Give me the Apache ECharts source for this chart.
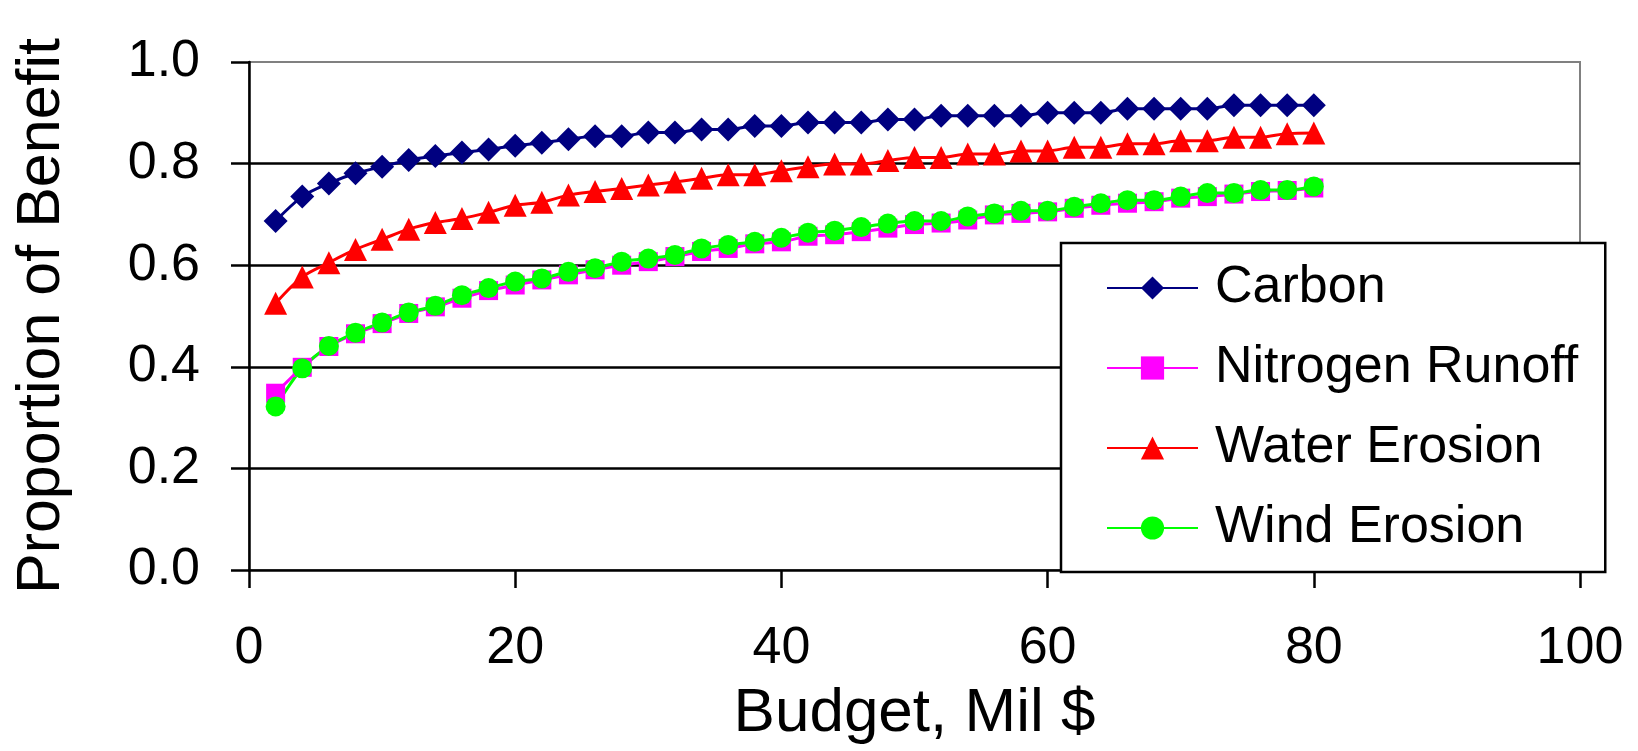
<!DOCTYPE html>
<html>
<head>
<meta charset="utf-8">
<script src="https://cdn.jsdelivr.net/npm/echarts@6/dist/echarts.min.js"></script>
<style>
html,body{margin:0;padding:0;background:#fff;}
#chart{width:1638px;height:751px;}
</style>
</head>
<body>
<div id="chart"></div>
<script>
// Budget (Mil $)
const budget = [2,4,6,8,10,12,14,16,18,20,22,24,26,28,30,32,34,36,38,40,
                42,44,46,48,50,52,54,56,58,60,62,64,66,68,70,72,74,76,78,80];
const carbon = [0.687,0.735,0.761,0.781,0.794,0.807,0.815,0.822,0.828,0.835,
                0.841,0.848,0.854,0.854,0.861,0.861,0.867,0.867,0.874,0.874,
                0.881,0.881,0.881,0.887,0.887,0.894,0.894,0.894,0.894,0.900,
                0.900,0.900,0.908,0.908,0.908,0.908,0.915,0.915,0.915,0.915];
const nitrogenRunoff = [0.348,0.399,0.440,0.465,0.485,0.505,0.518,0.535,0.550,0.561,
                0.571,0.581,0.591,0.600,0.607,0.617,0.627,0.633,0.642,0.646,
                0.657,0.660,0.666,0.673,0.680,0.683,0.689,0.699,0.702,0.705,
                0.712,0.718,0.722,0.725,0.732,0.735,0.740,0.745,0.747,0.752];
const waterErosion = [0.525,0.577,0.605,0.631,0.651,0.671,0.684,0.692,0.704,0.718,
                0.724,0.738,0.745,0.751,0.758,0.764,0.771,0.778,0.778,0.786,
                0.794,0.799,0.799,0.806,0.812,0.812,0.819,0.819,0.825,0.825,
                0.832,0.832,0.839,0.839,0.845,0.845,0.852,0.852,0.859,0.860];
const windErosion = [0.322,0.397,0.441,0.467,0.487,0.507,0.520,0.541,0.555,0.568,
                0.574,0.587,0.594,0.607,0.613,0.620,0.633,0.640,0.646,0.654,
                0.664,0.668,0.675,0.682,0.687,0.687,0.696,0.702,0.707,0.707,
                0.715,0.722,0.728,0.728,0.735,0.742,0.742,0.748,0.748,0.755];
const seriesNames = ['Carbon','Nitrogen Runoff','Water Erosion','Wind Erosion'];
const xTicks = [0,20,40,60,80,100];
const yTicks = [0,0.2,0.4,0.6,0.8,1.0];

const FONT = '"Liberation Sans", Arial, sans-serif';
const pairs = arr => budget.map((b,i)=>[b,arr[i]]);

const chart = echarts.init(document.getElementById('chart'), null, {renderer:'canvas'});
const mk = (name, arr, color, symbol, size) => ({
  name, type:'line', data: pairs(arr), smooth:0.3,
  symbol, symbolSize:size, showSymbol:true,
  lineStyle:{color, width:3},
  itemStyle:{color, borderWidth:0},
  emphasis:{disabled:true}
});
chart.setOption({
  animation:false,
  backgroundColor:'#fff',
  textStyle:{fontFamily:FONT, color:'#000'},
  grid:{left:249, right:58, top:62, bottom:181, show:true, borderColor:'#808080', borderWidth:2, backgroundColor:'transparent'},
  xAxis:{
    type:'value', min:xTicks[0], max:xTicks[xTicks.length-1], interval:20,
    name:'Budget, Mil $', nameLocation:'middle', nameGap:113,
    nameTextStyle:{fontSize:62, fontFamily:FONT, color:'#000'},
    axisLine:{show:true, onZero:false, lineStyle:{color:'#000', width:2.5}},
    axisTick:{show:true, inside:false, length:18, lineStyle:{color:'#000', width:2.5}},
    axisLabel:{fontSize:52, fontFamily:FONT, color:'#000', margin:53},
    splitLine:{show:false}
  },
  yAxis:{
    type:'value', min:yTicks[0], max:yTicks[yTicks.length-1], interval:0.2,
    name:'Proportion of Benefit', nameLocation:'middle', nameGap:176,
    nameTextStyle:{fontSize:61, fontFamily:FONT, color:'#000'},
    axisLine:{show:true, onZero:false, lineStyle:{color:'#000', width:2.5}},
    axisTick:{show:true, inside:false, length:18, lineStyle:{color:'#000', width:2.5}},
    axisLabel:{fontSize:52, fontFamily:FONT, color:'#000', margin:49, formatter:v=>v.toFixed(1)},
    splitLine:{show:true, showMinLine:false, showMaxLine:false, lineStyle:{color:'#000', width:2.5}}
  },
  legend:{
    orient:'vertical', left:1061, top:243,
    backgroundColor:'#fff', borderColor:'#000', borderWidth:2.5,
    padding:[15,27,14,45],
    itemWidth:91, itemHeight:29, itemGap:20,
    textStyle:{fontSize:52, fontFamily:FONT, color:'#000', lineHeight:60, padding:[0,0,0,12]},
    data:seriesNames, z:20, selectedMode:false
  },
  series:[
    mk(seriesNames[0], carbon, '#000080', 'diamond', 24),
    mk(seriesNames[1], nitrogenRunoff, '#FF00FF', 'rect', 19),
    mk(seriesNames[2], waterErosion, '#FF0000', 'triangle', 23),
    mk(seriesNames[3], windErosion, '#00FF00', 'circle', 20)
  ]
});
</script>
</body>
</html>
